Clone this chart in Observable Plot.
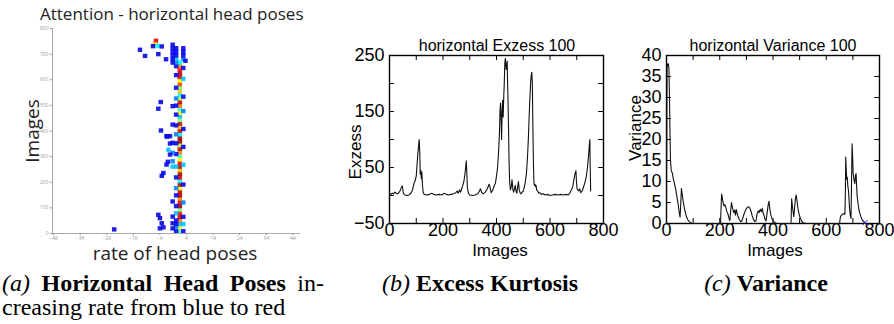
<!DOCTYPE html>
<html><head><meta charset="utf-8">
<script src="https://cdn.jsdelivr.net/npm/d3@7"></script>
<script src="https://cdn.jsdelivr.net/npm/@observablehq/plot@0.6"></script>
<style>
body{margin:0;background:#fff;}
#root{position:relative;width:894px;height:324px;overflow:hidden;background:#fff;}
.panel{position:absolute;top:0;}
.panel svg{overflow:visible;}
.lbl{position:absolute;white-space:nowrap;color:#000;line-height:1;}
.sans{font-family:"Liberation Sans",Arial,sans-serif;}
.open{font-family:"Open Sans",sans-serif;color:#222;}
.rot{transform:translate(-50%,-50%) rotate(-90deg);}
.ctr{transform:translate(-50%,-50%);}
.cap{position:absolute;font-family:"Liberation Serif","Times New Roman",serif;font-size:24px;line-height:24px;color:#000;white-space:nowrap;}
</style></head><body><div id="root"></div>
<script>
// ---------- Panel (a): horizontal head poses heat map ----------
const rateTicks = [-46, -36, -26, -16, -6, 4, 14, 24, 34, 44];
const imageTicks = [0, 100, 200, 300, 400, 500, 600, 700, 800];
const jetColors = ["#00008f", "#0000ff", "#00ffff", "#ffff00", "#ff0000", "#800000"];
// main strip (rate 1.7)
const stripImage = [7,21,35,49,63,77,91,105,119,133,147,161,175,189,203,217,231,245,259,273,287,301,315,329,343,357,371,385,399,413,427,441,455,469,483,497,511,525,539,553,567,581,595,609,623,637,651,665];
const stripLevel = [0.45,0.6,0.35,0.7,0.9,0.8,0.5,0.95,0.85,0.7,0.95,0.9,0.6,0.95,0.4,0.85,0.95,0.65,0.9,0.8,0.6,0.45,0.7,0.9,0.55,0.95,0.95,0.4,0.85,0.65,0.9,0.5,0.35,0.6,0.45,0.7,0.9,0.55,0.4,0.65,0.5,0.75,0.6,0.85,0.9,0.8,0.7,0.4];
// other cells
const cellRate = [0.3,0.3,0.3,0.3,0.3,0.3,0.3,0.3,0.3,0.3,0.3,0.3,0.3,0.3,0.3,0.3,0.3,0.3,0.3,0.3,0.3,0.3,0.3,0.3,0.3,
  3,3,3,3,3,3,3,3,3,3,3,3,3,3,3,3,
  -1,-1,-1,-1,-1,-1,-1,-1,-1,-1,-1,-1,-1,-1,-1,-1,
  -2,-2.6,-2,-3.3,-4.5,-5.1,-3.1,-2,-2.8,-3.3,-5.4,-6.4,-5.5,-6.4,-5.8,-5.1,-5.8,-4.5,-23,
  -7.3,-7.7,-8.4,-6.6,-5.1,-13.3,-11.4,-6.4,-3.5,3.8];
const cellImage = [7,21,35,49,77,105,147,175,217,259,308,350,385,420,462,497,525,567,616,651,665,679,693,707,721,
  7,35,63,119,189,266,336,406,476,532,602,644,679,693,707,721,
  18,38,64,123,259,280,313,352,423,495,665,679,693,707,721,735,
  378,325,306,267,234,223,376,349,278,378,400,485,511,71,58,38,18,22,14,
  750,737,729,730,728,715,691,698,678,672];
const cellLevel = [0.15,0.3,0.15,0.2,0.35,0.15,0.2,0.3,0.15,0.35,0.2,0.15,0.3,0.15,0.2,0.15,0.3,0.15,0.2,0.15,0.3,0.35,0.15,0.2,0.15,
  0.2,0.35,0.15,0.3,0.15,0.35,0.2,0.15,0.3,0.2,0.35,0.15,0.3,0.15,0.15,0.2,
  0.15,0.15,0.15,0.15,0.35,0.3,0.3,0.15,0.15,0.15,0.15,0.15,0.2,0.15,0.15,0.15,
  0.15,0.35,0.15,0.15,0.15,0.15,0.15,0.15,0.2,0.15,0.15,0.15,0.15,0.15,0.15,0.15,0.15,0.15,0.15,
  0.85,0.65,0.15,0.4,0.15,0.15,0.15,0.15,0.15,0.15];

// ---------- Panel (b): excess kurtosis ----------
const exX = [0,5,10,15,20,25,30,35,40,45,48,52,58,65,72,80,86,92,97,100,103,106,109,111,113,115,117,119,121,123,126,130,140,150,158,165,175,185,195,205,212,220,230,240,248,253,257,262,266,270,274,278,282,285,287,289,291,295,300,310,320,330,336,340,344,350,358,366,372,376,380,384,388,392,396,400,404,408,411,413,415,417,419,421,423,425,427,429,431,433,434,436,438,440,441,443,445,447,449,452,455,458,461,464,467,470,473,476,479,482,485,488,492,496,500,504,508,512,516,519,522,525,528,530,532,534,536,538,540,542,544,546,548,550,554,558,562,568,575,582,590,600,610,620,630,640,650,660,668,674,678,682,686,690,694,697,699,701,704,707,711,715,720,726,731,736,740,744,747,749,750,752];
const exY = [3,2,4,3,6,4,3,5,9,15,17,4,1,0,1,4,10,22,28,35,55,75,90,100,78,38,45,30,42,20,5,2,1,2,4,2,1,2,1,4,2,1,2,3,5,8,4,10,6,12,18,25,38,52,62,40,15,4,1,0,1,3,8,12,6,3,6,12,20,15,5,8,12,18,22,35,50,80,110,150,165,140,100,150,170,140,175,200,235,245,240,225,230,240,210,170,120,60,25,10,15,28,12,6,12,18,8,4,15,25,10,5,3,6,8,15,25,40,70,100,140,175,205,215,220,200,120,60,22,18,20,16,18,10,8,4,5,2,3,1,2,0,1,2,1,2,1,2,1,4,8,12,18,30,40,44,25,12,10,8,12,5,8,16,24,35,50,70,90,100,60,8];
const exYLabels = [-50, 50, 150, 250];
const exYMarks = [-50, 0, 50, 100, 150, 200, 250];
const xLabels = [0, 200, 400, 600, 800];
const xMarks = [100, 200, 300, 400, 500, 600, 700];

// ---------- Panel (c): variance ----------
const vaX = [0,2,4,7,9,11,13,15,18,22,26,30,35,40,44,48,51,53,56,59,62,66,70,75,80,86,92,100,150,203,205,207,210,213,216,219,222,226,231,235,238,241,244,247,250,253,256,259,262,265,269,274,279,283,288,293,298,303,309,314,318,322,326,331,336,340,344,348,352,356,360,363,366,370,374,378,382,385,388,392,397,403,410,416,466,468,470,474,478,481,484,487,490,494,498,503,509,516,525,650,653,657,662,667,670,672,673,675,677,679,681,684,687,690,693,695,697,699,701,704,707,710,712,714,716,719,723,728,733,738,743,747];
const vaY = [2.5,37,38,38,37,31,22,15,12.5,12,10.5,9.5,8,6,4.5,2.5,1.5,4,8.3,7,5.5,4,2.8,1.6,0.9,0.4,0.1,0,0,0,4,7,6,4.8,4.2,4.5,4,3,2.2,1.2,0.7,3,5,4,3.2,2.6,3.2,2,3.3,2.5,1.6,0.9,0.4,0.6,1.6,2.6,3.3,3.8,4,3.5,2.8,1.8,1.1,0.5,0.6,2.2,3,2.6,3.4,2.8,3.6,2.4,2,1,0.6,2.6,4.5,5.3,3.5,2,1,0.4,0.1,0,0,0.5,5.9,3.5,1.6,3.5,5.8,6.8,5.5,3.5,2.2,1.2,0.4,0.1,0,0,1.5,2,2.2,2.4,2.2,8,15.8,13,10.5,11,9,7.5,4,2,1.2,10,19,16,12,10.5,9.5,11.5,11.9,9,6.5,5,3.2,2,1.1,0.6,0.3,0.1];
const vaEndX = [746];
const vaEndY = [0.2];
const vaYTicks = [0, 5, 10, 15, 20, 25, 30, 35, 40];

const root = document.getElementById("root");
function place(node, left) {
  const d = document.createElement("div");
  d.className = "panel"; d.style.left = left + "px";
  d.appendChild(node); root.appendChild(d);
}
function label(text, x, y, cls, size) {
  const d = document.createElement("div");
  d.className = "lbl " + cls;
  d.style.left = x + "px"; d.style.top = y + "px"; d.style.fontSize = size + "px";
  d.textContent = text; root.appendChild(d);
}

// (a)
const hm = stripImage.map((im, i) => ({rate: 1.7, image: im, level: stripLevel[i]}))
  .concat(cellRate.map((r, i) => ({rate: r, image: cellImage[i], level: cellLevel[i]})));
place(Plot.plot({
  width: 305, height: 260,
  marginLeft: 52, marginRight: 5, marginTop: 28, marginBottom: 27,
  x: {domain: [-46.4, 46.9]},
  y: {domain: [0, 800]},
  color: {type: "linear", domain: [0, 1], interpolate: d3.piecewise(d3.interpolateRgb, jetColors)},
  style: {fontFamily: "Open Sans, sans-serif", background: "#fff"},
  marks: [
    Plot.rect(hm, {x1: d => d.rate - 0.85, x2: d => d.rate + 0.85, y1: d => d.image - 8.5, y2: d => d.image + 8.5, fill: "level", fillOpacity: 0.88}),
    Plot.ruleX([-46.4], {stroke: "#aaa"}),
    Plot.ruleY([0], {stroke: "#aaa"}),
    Plot.axisX({ticks: rateTicks, tickSize: 2, tickPadding: 1, fontSize: 5, color: "#999", label: null}),
    Plot.axisY({ticks: imageTicks, tickSize: 2, tickPadding: 2, fontSize: 5, color: "#999", label: null})
  ]
}), 0);
label("Attention - horizontal head poses", 40, 5, "open", 17);
label("Images", 32, 131, "open rot", 19);
label("rate of head poses", 175, 253, "open ctr", 19);

// (b)
const ex = exX.map((x, i) => ({x, y: exY[i]}));
place(Plot.plot({
  width: 280, height: 260,
  marginLeft: 49, marginRight: 17, marginTop: 55, marginBottom: 37,
  x: {domain: [0, 800]},
  y: {domain: [-50, 250]},
  style: {fontFamily: "Liberation Sans, Arial, sans-serif", color: "#000", background: "transparent"},
  marks: [
    Plot.ruleY(exYMarks, {y: d => d, x1: 0, x2: 18, stroke: "#000"}),
    Plot.ruleY(exYMarks, {y: d => d, x1: 782, x2: 800, stroke: "#000"}),
    Plot.ruleX(xMarks, {x: d => d, y1: -50, y2: -41, stroke: "#000"}),
    Plot.ruleX(xMarks, {x: d => d, y1: 241, y2: 250, stroke: "#000"}),
    Plot.frame({stroke: "#000", strokeWidth: 1.4}),
    Plot.axisY({ticks: exYLabels, tickSize: 0, tickPadding: 5, fontSize: 18, label: null}),
    Plot.axisX({ticks: xLabels, tickSize: 0, tickPadding: 0, fontSize: 18, label: null}),
    Plot.line(ex, {x: "x", y: "y", stroke: "#111", strokeWidth: 1.1})
  ]
}), 340);
label("horizontal Exzess 100", 497, 46, "sans ctr", 16);
label("Exzess", 355, 152, "sans rot", 17);
label("Images", 500, 250, "sans ctr", 17);

// (c)
const va = vaX.map((x, i) => ({x, y: vaY[i]}));
place(Plot.plot({
  width: 274, height: 260,
  marginLeft: 46, marginRight: 15, marginTop: 55, marginBottom: 37,
  x: {domain: [0, 800]},
  y: {domain: [0, 40]},
  style: {fontFamily: "Liberation Sans, Arial, sans-serif", color: "#000", background: "transparent"},
  marks: [
    Plot.ruleY(vaYTicks, {y: d => d, x1: 0, x2: 18, stroke: "#000"}),
    Plot.ruleY(vaYTicks, {y: d => d, x1: 782, x2: 800, stroke: "#000"}),
    Plot.ruleX(xMarks, {x: d => d, y1: 0, y2: 1.2, stroke: "#000"}),
    Plot.ruleX(xMarks, {x: d => d, y1: 38.8, y2: 40, stroke: "#000"}),
    Plot.frame({stroke: "#000", strokeWidth: 1.4}),
    Plot.axisY({ticks: vaYTicks, tickSize: 0, tickPadding: 5, fontSize: 18, label: null}),
    Plot.axisX({ticks: xLabels, tickSize: 0, tickPadding: 0, fontSize: 18, label: null}),
    Plot.line(va, {x: "x", y: "y", stroke: "#111", strokeWidth: 1.1}),
    Plot.dot(vaEndX.map((x, i) => ({x, y: vaEndY[i]})), {x: "x", y: "y", symbol: "times", r: 2.5, stroke: "#33c", strokeWidth: 1})
  ]
}), 620);
label("horizontal Variance 100", 773, 46, "sans ctr", 16);
label("Variance", 635, 128, "sans rot", 17);
label("Images", 775, 250, "sans ctr", 17);

// captions
function cap(html, x, y, opts) {
  const d = document.createElement("div");
  d.className = "cap"; d.style.left = x + "px"; d.style.top = y + "px";
  if (opts === "justify") { d.style.width = "322px"; d.style.whiteSpace = "normal"; d.style.textAlign = "justify"; d.style.textAlignLast = "justify"; }
  if (opts === "center") { d.style.transform = "translateX(-50%)"; }
  d.innerHTML = html; root.appendChild(d);
}
cap("<i>(a)</i> <b>Horizontal Head Poses</b> in-", 2, 271, "justify");
cap("creasing rate from blue to red", 2, 295);
cap("<i>(b)</i> <b>Excess Kurtosis</b>", 480, 271, "center");
cap("<i>(c)</i> <b>Variance</b>", 766, 271, "center");
</script></body></html>
